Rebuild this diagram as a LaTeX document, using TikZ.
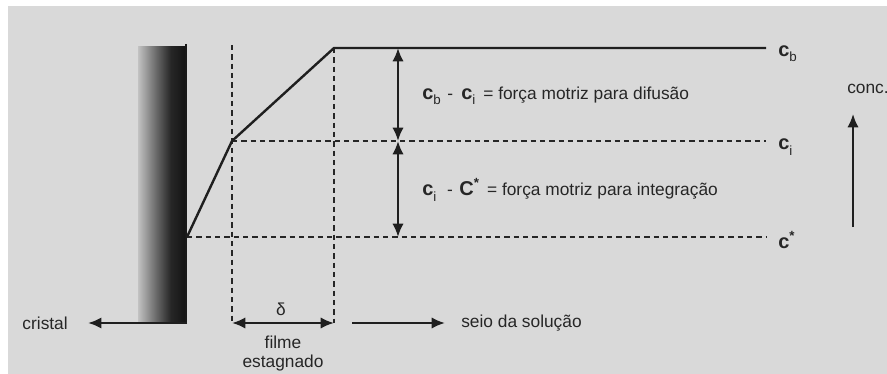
\documentclass[tikz,border=0pt]{standalone}
\usepackage{fontspec}
\setmainfont{Liberation Sans}
\usetikzlibrary{arrows.meta}
\pgfdeclarehorizontalshading{crys}{100bp}{color(0bp)=(black!24); color(25bp)=(black!24); color(45bp)=(black!60); color(60bp)=(black!85); color(75bp)=(black!92); color(100bp)=(black!92)}
\newcommand\cbig{\fontsize{15}{18}\selectfont\bfseries}
\newcommand\sbs[1]{\raisebox{-4pt}{\fontsize{10}{12}\selectfont #1}}
\newcommand\sps[1]{\raisebox{6pt}{\fontsize{10}{12}\selectfont\bfseries #1}}
\begin{document}
\begin{tikzpicture}[x=0.75pt,y=-0.75pt,
  ln/.style={line width=1.8pt, draw=black!88, line join=round},
  dsh/.style={line width=1.6pt, draw=black!85, dash pattern=on 4pt off 3pt},
  arr/.style={line width=1.6pt, draw=black!88, -{Latex[length=10pt,width=8.5pt]}},
  darr/.style={line width=1.6pt, draw=black!88, {Latex[length=10pt,width=8.5pt]}-{Latex[length=10pt,width=8.5pt]}},
  lbl/.style={inner sep=0pt, font=\fontsize{13}{15}\selectfont, text=black!85},
]
\useasboundingbox (0,0) rectangle (887,374);
\fill[white] (0,0) rectangle (887,374);
\fill[black!15] (8,6) rectangle (887,374);

% crystal
\shade[shading=crys] (138,47) rectangle (185,323);
\draw[line width=2pt, draw=black!90] (186,44) -- (186,323);

% coordinates
\coordinate (p0) at (187,237);
\coordinate (p1) at (232,141);
\coordinate (p2) at (334,48);
\coordinate (p3) at (766,48);
\coordinate (v1t) at (232,45);
\coordinate (v1b) at (232,323);
\coordinate (v2b) at (334,323);
\coordinate (ci) at (766,141);
\coordinate (cs) at (766,237);
\coordinate (a1) at (398,48);
\coordinate (a2) at (398,141);
\coordinate (a3) at (398,237);
\coordinate (ua) at (853,227);
\coordinate (ub) at (853,114);
\coordinate (cr1) at (187,323);
\coordinate (cr2) at (88,323);
\coordinate (s1) at (352,323);
\coordinate (s2) at (445,323);

% dashed guides
\draw[dsh] (v1t) -- (v1b);
\draw[dsh] (p2) -- (v2b);
\draw[dsh] (p1) -- (ci);
\draw[dsh] (p0) -- (cs);

% profile
\draw[ln] (p0) -- (p1) -- (p2) -- (p3);

% arrows
\draw[darr] (a1) -- (a2);
\draw[darr] (a2) -- (a3);
\draw[arr] (ua) -- (ub);
\draw[arr, line width=1.9pt] (cr1) -- (cr2);
\draw[darr] (v1b) -- (v2b);
\draw[arr] (s1) -- (s2);

% labels
\node[lbl, anchor=west] (lcb) at (778,54) {{\cbig c}\sbs{b}};
\node[lbl, anchor=west] (lci) at (778,147) {{\cbig c}\sbs{i}};
\node[lbl, anchor=west] (lcs) at (778,240) {{\cbig c}\sps{*}};
\node[lbl, anchor=west] (conc) at (847,89) {conc.};
\node[lbl, anchor=west] (l1) at (422,96) {{\cbig c}\sbs{b}\hspace{5pt}-\hspace{6pt}{\cbig c}\sbs{i}\hspace{6pt}= força motriz para difusão};
\node[lbl, anchor=west] (l2) at (422,190) {{\cbig c}\sbs{i}\hspace{8pt}-\hspace{5pt}{\cbig C}\sps{*}\hspace{6pt}= força motriz para integração};
\node[lbl, anchor=east] (cristal) at (68,323) {cristal};
\node[lbl] (delta) at (281,309) {δ};
\node[lbl] (filme) at (283,342) {filme};
\node[lbl] (estag) at (283,363) {estagnado};
\node[lbl, anchor=west] (seio) at (461,323) {seio da solução};
\end{tikzpicture}
\end{document}
